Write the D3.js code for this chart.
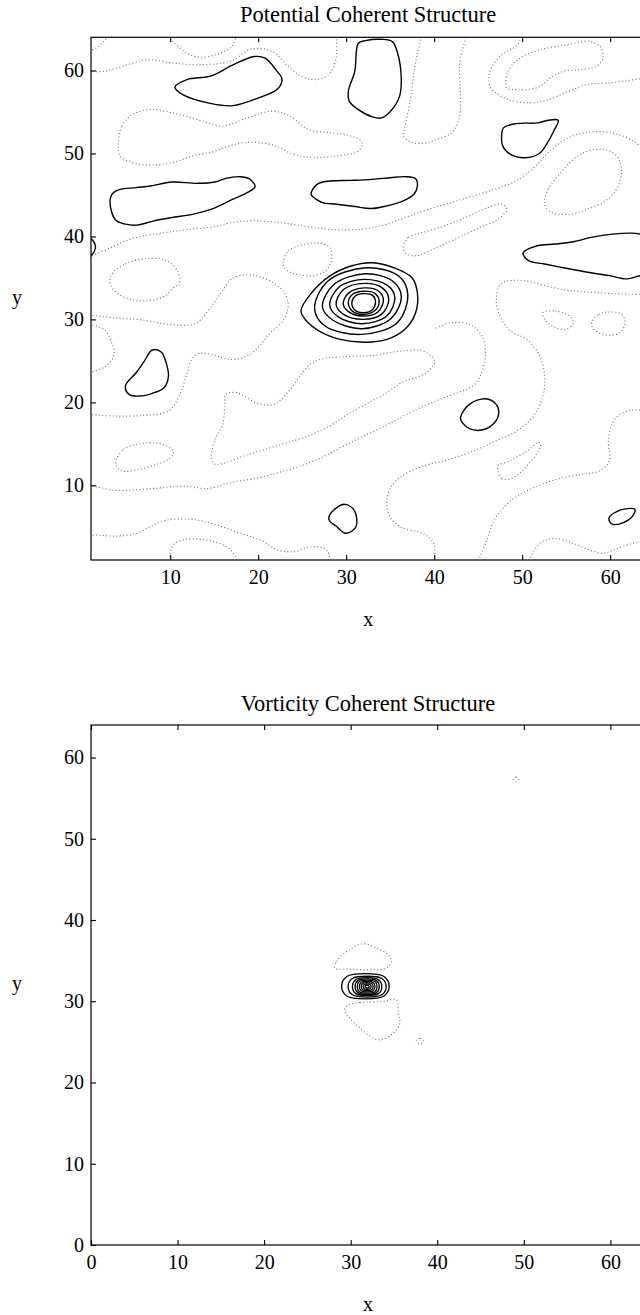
<!DOCTYPE html>
<html><head><meta charset="utf-8">
<script src="https://cdn.jsdelivr.net/npm/d3@7"></script>
<style>
body{margin:0;background:#fff;}
svg{display:block;font-family:"Liberation Serif","Times New Roman",serif;}
</style></head><body>
<svg id="c" width="640" height="1315"></svg>
<script>
// ---------------- DATA (data units) ----------------
const potXTicks = [10,20,30,40,50,60];
const potYTicks = [10,20,30,40,50,60];
const vorXTicks = [0,10,20,30,40,50,60];
const vorYTicks = [0,10,20,30,40,50,60];

// positive (solid) closed contours of the potential field
const potSolid = [
  [[10.53,58.0],[11.83,58.88],[14.68,59.36],[17.13,60.68],[19.57,61.68],[20.79,61.48],[22.01,60.08],[22.7,58.96],[22.2,57.76],[19.98,56.68],[17.13,55.76],[14.68,56.0],[11.43,57.08]],
  [[31.38,63.28],[32.19,63.6],[34.02,63.76],[35.24,63.48],[35.85,62.08],[36.26,58.88],[36.06,56.88],[35.04,55.08],[34.02,54.28],[33.0,54.4],[31.38,55.28],[30.36,56.28],[30.24,57.48],[30.97,59.88]],
  [[47.87,53.08],[49.29,53.6],[51.73,53.68],[52.96,54.0],[54.1,54.0],[53.57,52.68],[52.75,51.08],[51.94,50.0],[50.31,49.48],[48.68,49.88],[47.79,50.88],[47.66,52.08]],
  [[3.28,44.88],[4.1,45.6],[6.13,45.88],[7.76,46.08],[10.2,46.56],[13.05,46.4],[15.09,46.56],[16.31,47.0],[17.94,47.2],[18.96,46.96],[19.65,46.0],[18.75,45.28],[16.72,44.28],[14.68,43.28],[12.65,42.68],[10.2,42.28],[8.17,41.88],[6.13,41.36],[4.91,41.48],[3.89,41.88],[3.36,42.88]],
  [[26.0,45.08],[26.69,46.28],[28.12,46.68],[30.56,46.76],[33.0,46.88],[35.04,47.08],[36.67,47.2],[37.89,46.96],[38.09,46.08],[37.69,45.08],[36.47,44.28],[34.63,43.68],[32.8,43.36],[30.97,43.6],[28.93,43.88],[27.3,44.08],[26.49,44.56]],
  [[50.1,38.0],[51.73,38.88],[53.77,39.08],[55.81,39.36],[57.84,39.88],[60.29,40.28],[62.32,40.4],[63.46,40.28],[65.5,39.5],[65.5,35.5],[63.46,35.28],[61.91,34.88],[59.88,35.28],[57.44,35.68],[54.99,36.16],[52.55,36.68],[50.72,37.08]],
  [[0.6,40.0],[1.35,39.3],[1.5,38.6],[1.2,37.9],[0.6,37.6]],
  [[4.91,21.97],[6.13,23.57],[6.95,24.78],[7.96,26.31],[8.98,26.07],[9.59,24.58],[9.8,23.17],[9.31,21.77],[7.96,21.09],[6.54,20.76],[5.32,20.96]],
  [[42.98,18.15],[44.0,19.76],[45.83,20.44],[47.05,19.76],[47.34,18.76],[46.85,17.55],[45.42,16.67],[44.0,16.83],[43.2,17.55]],
  [[28.04,6.23],[28.93,7.31],[29.83,7.71],[30.77,7.19],[31.17,6.23],[31.05,4.9],[29.95,4.22],[28.85,5.1],[28.12,5.7]],
  [[59.88,6.11],[60.9,6.91],[61.91,7.19],[62.8,7.11],[62.5,6.23],[61.5,5.5],[60.3,5.3],[59.96,5.58]],
  // central concentric maximum
  [[24.86,31.0],[26.08,33.21],[28.12,35.22],[30.56,36.43],[33.0,36.83],[35.45,36.22],[37.48,35.02],[38.09,33.21],[37.89,30.8],[36.67,28.8],[34.63,27.59],[31.58,27.27],[28.12,27.99],[25.68,29.6]],
  [[26.41,31.3],[27.9,34.6],[32.3,36.22],[36.0,35.2],[37.0,33.0],[35.8,29.6],[31.7,28.19],[27.6,29.2]],
  [[27.3,31.5],[28.6,34.2],[32.2,35.5],[35.3,34.6],[36.26,32.8],[35.1,30.1],[31.8,28.88],[28.5,29.9]],
  [[28.12,31.7],[29.2,33.9],[32.1,34.82],[34.7,34.1],[35.53,32.6],[34.6,30.4],[31.8,29.48],[29.1,30.3]],
  [[28.85,31.8],[29.7,33.6],[32.1,34.34],[34.1,33.8],[34.84,32.4],[34.0,30.6],[31.9,30.0],[29.7,30.6]],
  [[29.66,31.9],[30.3,33.2],[32.1,33.8],[33.7,33.4],[34.23,32.3],[33.6,30.9],[31.9,30.4],[30.3,30.9]],
  [[30.24,32.0],[30.7,33.0],[32.0,33.4],[33.3,33.1],[33.74,32.2],[33.3,31.1],[31.9,30.6],[30.7,31.0]],
  [[30.64,32.0],[31.0,32.8],[32.0,33.1],[33.0,32.9],[33.33,32.1],[33.0,31.2],[32.0,30.8],[31.0,31.1]]
];

// negative (dotted) closed contours of the potential field
const potDottedClosed = [
  [[4.1,50.9],[4.5,53.3],[5.7,54.7],[7.8,55.3],[10.2,54.9],[13.05,54.1],[15.9,53.3],[18.75,54.3],[21.6,55.1],[23.6,54.5],[25.7,52.9],[28.1,52.5],[30.6,52.1],[31.8,51.3],[31.4,50.3],[28.9,49.7],[26.1,49.5],[24.0,49.9],[22.0,50.9],[20.0,51.3],[18.35,51.3],[16.7,50.9],[15.1,50.3],[12.6,49.7],[10.2,48.9],[7.8,48.6],[5.7,48.9],[4.3,49.7]],
  [[48.24,57.89],[48.39,59.89],[49.75,61.49],[52.02,62.5],[55.06,63.1],[57.7,63.5],[58.84,62.9],[59.18,61.49],[58.47,60.5],[56.57,60.1],[54.64,59.89],[53.16,59.09],[52.02,58.09],[50.5,57.7],[48.95,57.7]],
  [[3.28,35.28],[4.91,36.68],[7.35,37.36],[9.59,37.08],[10.81,35.88],[11.02,34.08],[10.61,34.02],[9.39,32.81],[6.95,32.21],[4.5,32.81],[3.28,34.02]],
  [[22.83,36.88],[23.44,38.28],[24.86,38.96],[26.69,39.2],[28.12,38.68],[28.32,37.08],[27.71,35.88],[26.08,35.28],[24.25,35.48],[23.03,36.08]],
  [[52.55,43.88],[52.95,45.68],[54.38,47.68],[55.8,49.28],[57.45,50.28],[59.47,50.48],[60.9,49.48],[61.3,47.68],[60.7,45.68],[59.47,44.28],[57.4,43.28],[55.4,42.68],[53.36,42.88]],
  [[36.47,38.68],[37.08,39.88],[38.7,40.48],[41.15,41.28],[43.59,42.28],[45.63,43.28],[47.66,43.88],[48.27,43.28],[47.25,42.08],[44.81,40.88],[42.37,39.68],[39.93,38.48],[38.1,37.68],[36.87,37.88]],
  [[52.35,30.8],[53.77,31.0],[55.4,30.4],[55.8,29.6],[54.99,28.8],[53.77,29.0],[52.55,30.0]],
  [[57.9,29.6],[58.7,30.6],[59.9,30.9],[61.3,30.6],[61.7,29.6],[61.1,28.4],[59.9,28.1],[58.7,28.4],[58.0,29.0]],
  [[14.68,13.13],[15.09,15.54],[15.9,17.15],[16.23,19.56],[16.31,20.96],[17.53,21.17],[19.98,19.88],[21.81,19.76],[23.64,21.57],[25.68,24.38],[27.3,25.26],[29.75,25.5],[33.0,25.66],[36.26,26.19],[38.7,26.19],[40.05,24.98],[39.11,23.57],[36.26,22.37],[34.63,21.17],[32.19,19.76],[30.15,18.55],[28.12,17.15],[25.68,15.94],[23.23,15.14],[20.79,14.34],[18.35,13.53],[16.31,12.73],[15.09,12.53]],
  [[47.25,12.33],[47.66,10.8],[48.9,10.9],[50.5,12.3],[52.1,14.74],[51.9,15.2],[50.5,14.1],[48.5,12.9]],
  [[3.89,13.13],[4.7,14.34],[6.13,14.94],[7.96,15.14],[9.6,14.74],[10.4,14.0],[9.8,13.13],[8.17,12.41],[6.13,11.85],[4.5,11.73],[3.89,12.33]]
];
// negative (dotted) open contours (they leave the frame)
const potDottedOpen = [
  [[0.8,62.3],[2.0,63.0],[3.2,64.5]],
  [[9.5,64.5],[10.5,63.3],[11.9,62.1],[13.4,61.6],[15.7,62.1],[17.0,62.9],[17.6,64.5]],
  [[0.8,59.9],[2.4,59.9],[5.8,60.9],[7.3,61.3],[10.35,60.9],[13.4,60.7],[16.8,61.1],[19.3,62.6],[21.6,62.3],[23.3,60.6],[24.9,59.3],[26.5,58.9],[28.0,59.5],[28.8,61.2],[28.9,64.5]],
  [[38.7,64.5],[38.1,62.1],[37.7,59.7],[37.3,56.5],[36.7,53.3],[36.5,52.1],[37.3,51.4],[38.7,51.2],[40.3,51.7],[42.0,52.5],[42.8,54.1],[43.0,56.5],[42.9,58.9],[42.9,60.9],[43.2,62.5],[43.8,64.5]],
  [[49.9,64.5],[49.5,63.1],[47.67,61.9],[46.34,59.9],[46.42,57.9],[48.45,56.5],[50.89,56.1],[52.92,56.5],[55.32,57.5],[57.36,58.3],[59.82,58.5],[63.4,59.0],[65.5,59.3]],
  [[0.8,37.48],[3.28,38.68],[5.72,39.76],[8.98,40.4],[11.83,40.8],[15.09,41.2],[17.13,41.68],[19.16,41.88],[21.6,41.76],[24.05,41.44],[26.49,41.04],[28.93,40.8],[31.78,40.88],[34.23,41.36],[36.67,42.28],[39.11,43.2],[41.96,44.08],[44.41,44.88],[46.85,45.68],[49.29,46.68],[51.33,48.28],[52.96,50.08],[54.99,51.76],[57.45,52.56],[60.29,52.48],[62.32,51.68],[63.46,50.88],[65.5,50.2]],
  [[0.8,29.4],[2.47,28.8],[3.36,27.19],[3.61,25.78],[2.87,24.46],[0.8,23.6]],
  [[0.8,30.5],[3.69,30.2],[7.0,29.9],[9.8,29.4],[11.83,29.3],[13.05,29.6],[14.7,31.6],[15.9,33.4],[17.13,35.0],[19.16,35.36],[21.6,34.48],[23.0,33.2],[23.4,31.6],[22.8,29.8],[21.2,28.19],[19.98,26.59],[18.55,25.5],[16.72,25.18],[15.09,25.66],[13.26,25.9],[12.44,25.18],[11.83,23.17],[11.02,20.76],[9.8,18.96],[6.95,18.43],[3.69,18.35],[0.8,18.55]],
  [[0.8,10.1],[3.69,9.4],[7.76,9.6],[11.83,9.9],[14.27,9.6],[16.72,10.3],[20.0,10.9],[22.5,11.6],[25.0,12.4],[27.5,13.5],[30.0,14.9],[32.5,16.2],[35.0,17.5],[37.5,18.9],[40.5,20.3],[43.0,21.3],[44.4,21.97],[45.22,23.17],[45.83,25.58],[45.42,28.0],[44.0,29.4],[41.96,29.6],[39.93,28.8]],
  [[0.8,4.0],[1.65,4.0],[3.9,3.88],[6.2,4.2],[7.7,5.0],[9.6,5.8],[12.5,5.9],[15.0,5.3],[18.35,4.1],[20.3,3.4],[22.2,2.2],[24.1,2.0],[25.9,2.6],[27.8,2.2],[28.2,0.5]],
  [[9.9,0.5],[10.35,2.8],[11.9,3.5],[14.15,3.4],[16.4,2.6],[17.4,1.4],[17.6,0.5]],
  [[40.05,0.5],[39.9,3.09],[38.7,4.2],[36.3,4.9],[35.04,6.1],[34.6,7.9],[35.04,9.72],[36.3,11.1],[38.7,12.3],[41.6,13.1],[44.4,14.1],[46.85,15.3],[49.3,16.5],[51.3,18.35],[52.35,20.76],[52.55,23.17],[51.9,25.8],[50.5,27.6],[48.7,28.6],[47.46,30.4],[47.05,32.4],[47.6,34.3],[49.0,34.7],[50.5,34.6],[54.6,33.6],[58.7,33.2],[63.5,33.0],[65.5,33.0]],
  [[45.0,0.5],[45.2,1.4],[46.0,3.4],[46.85,5.9],[48.9,8.3],[51.3,9.7],[53.8,10.7],[56.6,11.3],[58.7,11.7],[59.9,12.9],[59.8,15.5],[60.5,17.95],[61.9,18.96],[63.5,19.08],[65.5,19.1]],
  [[50.8,0.5],[50.9,1.2],[52.0,3.0],[53.5,3.6],[55.8,3.0],[57.7,2.2],[59.2,1.8],[60.35,2.2],[61.9,2.8],[63.4,3.2],[65.5,3.6]]
];

// vorticity field
const vorSolid = [
  [[28.95,31.85],[29.55,33.05],[31.7,33.4],[33.85,33.05],[34.45,31.85],[33.85,30.65],[31.7,30.3],[29.55,30.65]],
  [[29.7,31.8],[30.2,32.8],[31.9,33.08],[33.6,32.8],[34.1,31.8],[33.6,30.8],[31.9,30.52],[30.2,30.8]],
  [[30.2,31.8],[30.6,32.66],[31.9,32.9],[33.2,32.66],[33.6,31.8],[33.2,30.94],[31.9,30.7],[30.6,30.94]],
  [[30.5,31.8],[30.83,32.54],[31.9,32.75],[32.97,32.54],[33.3,31.8],[32.97,31.06],[31.9,30.85],[30.83,31.06]],
  [[30.75,31.8],[31.0,32.42],[31.9,32.6],[32.8,32.42],[33.05,31.8],[32.8,31.18],[31.9,31.0],[31.0,31.18]],
  [[31.0,31.8],[31.2,32.3],[31.9,32.45],[32.6,32.3],[32.8,31.8],[32.6,31.3],[31.9,31.15],[31.2,31.3]],
  [[31.22,31.8],[31.37,32.19],[31.9,32.3],[32.43,32.19],[32.58,31.8],[32.43,31.41],[31.9,31.3],[31.37,31.41]],
  [[31.45,31.8],[31.55,32.07],[31.9,32.15],[32.25,32.07],[32.35,31.8],[32.25,31.53],[31.9,31.45],[31.55,31.53]],
  [[31.65,31.8],[31.9,32.0],[32.15,31.8],[31.9,31.6]]
];
const vorDottedClosed = [
  [[28.18,34.08],[28.37,34.89],[29.52,36.12],[31.45,37.07],[32.99,36.54],[34.33,35.71],[34.72,34.89],[34.15,34.08],[32.6,33.87],[29.9,33.95]],
  [[29.53,29.43],[31.06,29.84],[33.75,29.96],[35.3,30.17],[35.49,28.53],[35.68,27.3],[34.91,26.07],[33.37,25.25],[32.02,25.86],[30.87,26.88],[29.91,27.92],[29.33,28.73]],
  [[37.6,25.1],[38.0,25.45],[38.4,25.1],[38.0,24.75]],
  [[48.8,57.3],[49.1,57.6],[49.4,57.3],[49.1,57.0]]
];

// ---------------- DRAWING ----------------
const svg = d3.select("#c");
let clipId = 0;
const FONT = '"Liberation Serif","Times New Roman",serif';

function panel(o){
  const x = d3.scaleLinear().domain(o.xDomain).range(o.xRange);
  const y = d3.scaleLinear().domain(o.yDomain).range(o.yRange);
  const g = svg.append("g");
  const id = "clip" + (clipId++);
  g.append("clipPath").attr("id", id).append("rect")
    .attr("x", o.xRange[0]).attr("y", o.yRange[1])
    .attr("width", o.xRange[1]-o.xRange[0]).attr("height", o.yRange[0]-o.yRange[1]);
  const plot = g.append("g").attr("clip-path", `url(#${id})`);
  const closed = d3.line().x(d=>x(d[0])).y(d=>y(d[1])).curve(d3.curveCatmullRomClosed.alpha(0.5));
  const open = d3.line().x(d=>x(d[0])).y(d=>y(d[1])).curve(d3.curveCatmullRom.alpha(0.5));

  const dotted = sel => sel.attr("fill","none").attr("stroke","#707070")
    .attr("stroke-width",1.1).attr("stroke-dasharray","1 2.4");
  plot.selectAll("path.dc").data(o.dottedClosed).join("path").attr("class","dc")
    .attr("d", closed).call(dotted);
  plot.selectAll("path.do").data(o.dottedOpen).join("path").attr("class","do")
    .attr("d", open).call(dotted);
  plot.selectAll("path.s").data(o.solid).join("path").attr("class","s")
    .attr("d", closed).attr("fill","none").attr("stroke","#000")
    .attr("stroke-width",o.solidWidth);

  // frame
  g.append("rect").attr("x", o.xRange[0]).attr("y", o.yRange[1])
    .attr("width", o.xRange[1]-o.xRange[0]).attr("height", o.yRange[0]-o.yRange[1])
    .attr("fill","none").attr("stroke","#000").attr("stroke-width",1.2);

  const fmt = d3.format("d");
  const ax = (gen, tr) => {
    const a = g.append("g").attr("transform", tr).call(gen);
    a.select(".domain").remove();
    a.selectAll("line").attr("stroke","#000").attr("stroke-width",1.1);
    a.selectAll("text").attr("font-family",FONT).attr("font-size",20).attr("fill","#000");
    return a;
  };
  ax(d3.axisBottom(x).tickValues(o.xTicks).tickFormat(fmt).tickSize(-5).tickPadding(10),
     `translate(0,${o.yRange[0]})`);
  ax(d3.axisTop(x).tickValues(o.xTicks).tickFormat("").tickSize(-5),
     `translate(0,${o.yRange[1]})`);
  ax(d3.axisLeft(y).tickValues(o.yTicks).tickFormat(fmt).tickSize(-5).tickPadding(7),
     `translate(${o.xRange[0]},0)`);
  ax(d3.axisRight(y).tickValues(o.yTicks).tickFormat("").tickSize(-5),
     `translate(${o.xRange[1]},0)`);

  const cx = (o.xRange[0]+o.xRange[1])/2;
  g.append("text").attr("x", cx).attr("y", o.titleY).attr("text-anchor","middle")
    .attr("font-family",FONT).attr("font-size",22.5).text(o.title);
  g.append("text").attr("x", cx).attr("y", o.yRange[0]+66).attr("text-anchor","middle")
    .attr("font-family",FONT).attr("font-size",20).text("x");
  g.append("text").attr("x", 17).attr("y", (o.yRange[0]+o.yRange[1])/2+5).attr("text-anchor","middle")
    .attr("font-family",FONT).attr("font-size",20).text("y");
}

panel({
  title:"Potential Coherent Structure", titleY:21.7,
  xDomain:[1,64], xRange:[91,645.4], yDomain:[1,64], yRange:[560,37.3],
  xTicks:potXTicks, yTicks:potYTicks,
  solid:potSolid, dottedClosed:potDottedClosed, dottedOpen:potDottedOpen, solidWidth:1.4
});
panel({
  title:"Vorticity Coherent Structure", titleY:711,
  xDomain:[0,64], xRange:[91,645], yDomain:[0,64], yRange:[1245,725],
  xTicks:vorXTicks, yTicks:vorYTicks,
  solid:vorSolid, dottedClosed:vorDottedClosed, dottedOpen:[], solidWidth:1.3
});
</script></body></html>
